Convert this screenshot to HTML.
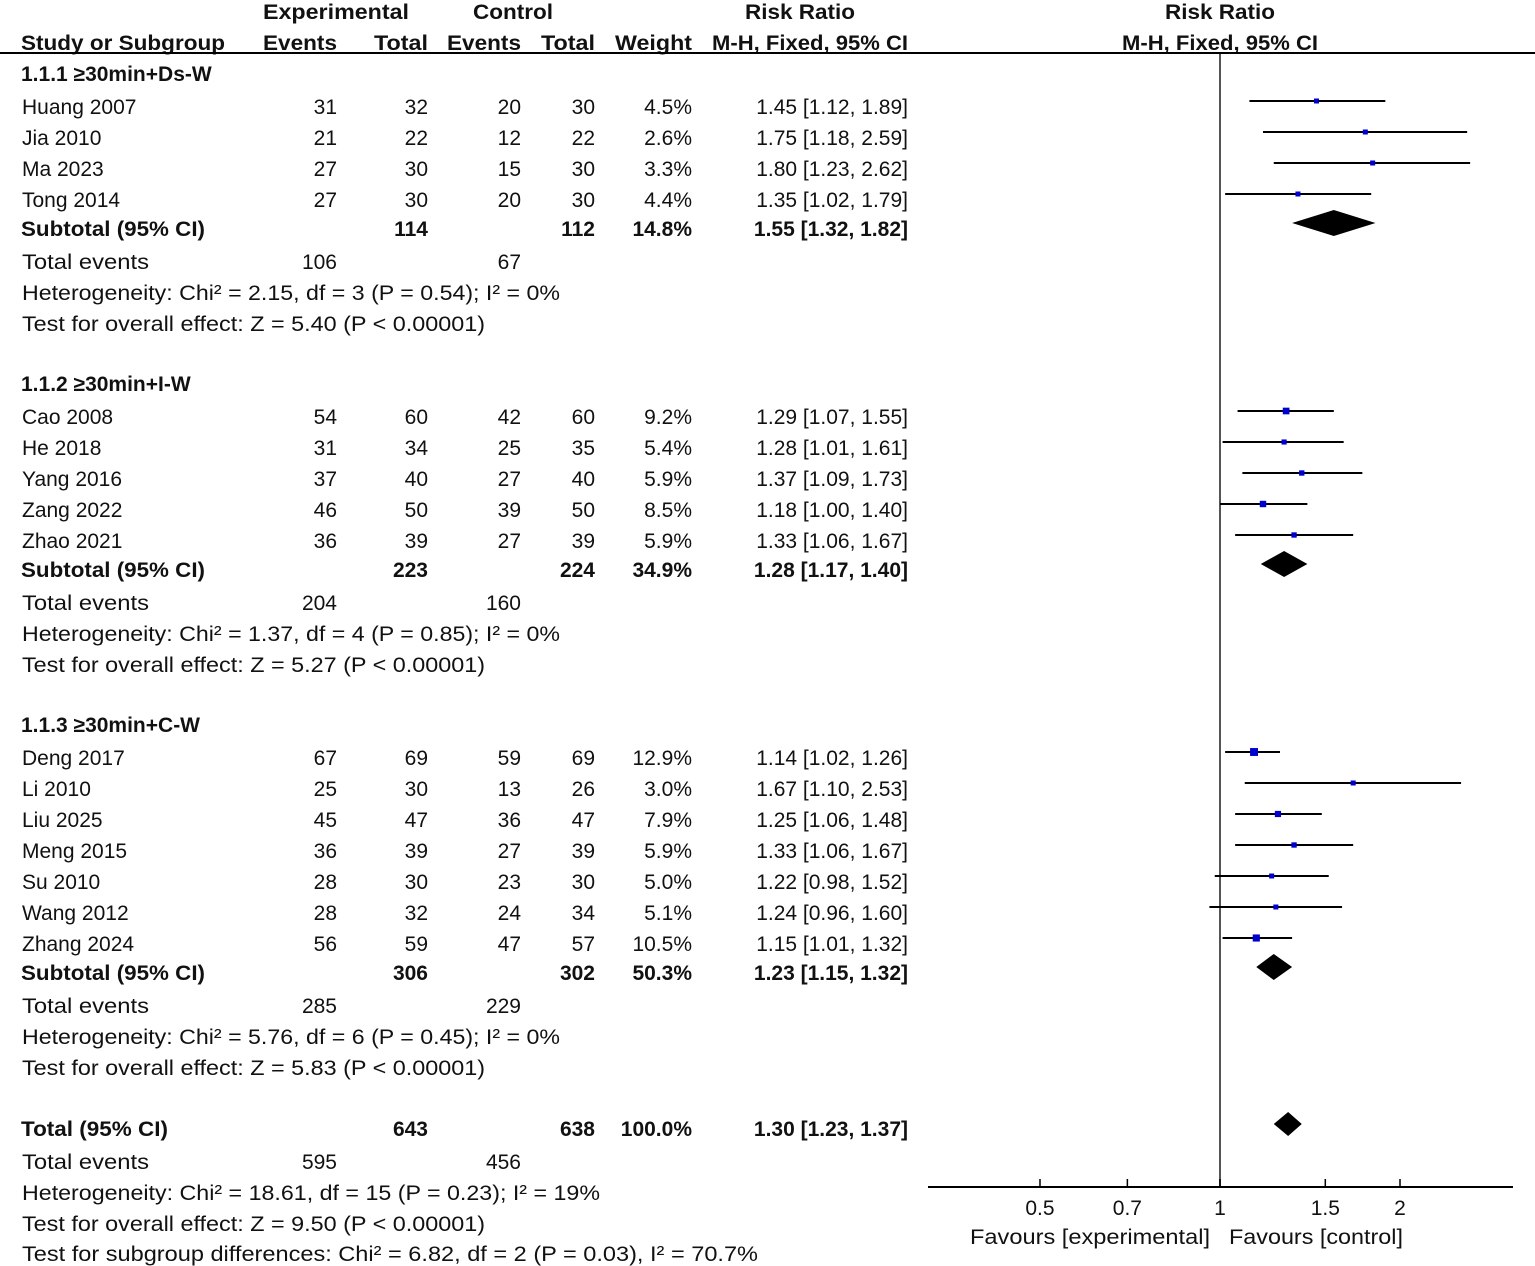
<!DOCTYPE html>
<html><head><meta charset="utf-8"><style>
html,body{margin:0;padding:0;background:#fff;}
svg{display:block;}
text{font-family:"Liberation Sans",Arial,sans-serif;font-size:21px;fill:#111;}
.b{font-weight:bold;}
</style></head><body>
<svg id="plot" width="1535" height="1266" viewBox="0 0 1535 1266"></svg>
<script>
const studyNames=["Huang 2007","Jia 2010","Ma 2023","Tong 2014","Cao 2008","He 2018","Yang 2016","Zang 2022","Zhao 2021","Deng 2017","Li 2010","Liu 2025","Meng 2015","Su 2010","Wang 2012","Zhang 2024"];
const studyGroup=[0,0,0,0,1,1,1,1,1,2,2,2,2,2,2,2];
const expEvents=[31,21,27,27,54,31,37,46,36,67,25,45,36,28,28,56];
const expTotal=[32,22,30,30,60,34,40,50,39,69,30,47,39,30,32,59];
const ctrlEvents=[20,12,15,20,42,25,27,39,27,59,13,36,27,23,24,47];
const ctrlTotal=[30,22,30,30,60,35,40,50,39,69,26,47,39,30,34,57];
const weights=[4.5,2.6,3.3,4.4,9.2,5.4,5.9,8.5,5.9,12.9,3.0,7.9,5.9,5.0,5.1,10.5];
const rr=[1.45,1.75,1.80,1.35,1.29,1.28,1.37,1.18,1.33,1.14,1.67,1.25,1.33,1.22,1.24,1.15];
const ciLo=[1.12,1.18,1.23,1.02,1.07,1.01,1.09,1.00,1.06,1.02,1.10,1.06,1.06,0.98,0.96,1.01];
const ciHi=[1.89,2.59,2.62,1.79,1.55,1.61,1.73,1.40,1.67,1.26,2.53,1.48,1.67,1.52,1.60,1.32];
const groupTitles=["1.1.1 ≥30min+Ds-W","1.1.2 ≥30min+I-W","1.1.3 ≥30min+C-W"];
const subExpTotal=[114,223,306];
const subCtrlTotal=[112,224,302];
const subWeight=["14.8%","34.9%","50.3%"];
const subRR=[1.55,1.28,1.23];
const subLo=[1.32,1.17,1.15];
const subHi=[1.82,1.40,1.32];
const subExpEvents=[106,204,285];
const subCtrlEvents=[67,160,229];
const subHet=["Heterogeneity: Chi² = 2.15, df = 3 (P = 0.54); I² = 0%","Heterogeneity: Chi² = 1.37, df = 4 (P = 0.85); I² = 0%","Heterogeneity: Chi² = 5.76, df = 6 (P = 0.45); I² = 0%"];
const subTest=["Test for overall effect: Z = 5.40 (P < 0.00001)","Test for overall effect: Z = 5.27 (P < 0.00001)","Test for overall effect: Z = 5.83 (P < 0.00001)"];
const totalRR=1.30, totalLo=1.23, totalHi=1.37;
const tickValues=[0.5,0.7,1,1.5,2];
const tickLabels=["0.5","0.7","1","1.5","2"];

const NS="http://www.w3.org/2000/svg";
const svg=document.getElementById('plot');
function xs(v){return 1220+259.7*Math.log(v);}
function el(tag,attrs,parent){const e=document.createElementNS(NS,tag);for(const k in attrs)e.setAttribute(k,attrs[k]);(parent||svg).appendChild(e);return e;}
function txt(s,x,y,anchor,cls,len,name){
  const t=el('text',{x:x,y:y+7,'text-anchor':anchor||'start'});
  if(cls)t.setAttribute('class',cls);
  if(len){t.setAttribute('textLength',len);t.setAttribute('lengthAdjust','spacingAndGlyphs');}
  t.textContent=s;
  
  
  return t;
}
const f2=v=>v.toFixed(2);
txt("Experimental",336,12,'middle','b',146,'header-experimental');
txt("Control",513,12,'middle','b',80,'header-control');
txt("Risk Ratio",800,12,'middle','b',110,'header-risk-ratio');
txt("Risk Ratio",1220,12,'middle','b',110,'header-risk-ratio-plot');
txt("Study or Subgroup",21,43,'start','b',204,'header-study');
txt("Events",337,43,'end','b',74,'header-exp-events');
txt("Total",428,43,'end','b',54,'header-exp-total');
txt("Events",521,43,'end','b',74,'header-ctrl-events');
txt("Total",595,43,'end','b',54,'header-ctrl-total');
txt("Weight",692,43,'end','b',77,'header-weight');
txt("M-H, Fixed, 95% CI",810,43,'middle','b',196,'header-mh');
txt("M-H, Fixed, 95% CI",1220,43,'middle','b',196,'header-mh-plot');
let l=el('line',{x1:0,y1:53,x2:1535,y2:53,stroke:'#000','stroke-width':2});

l=el('line',{x1:1220,y1:54,x2:1220,y2:1187,stroke:'#555','stroke-width':2});


function diamond(c,lo,hi,y,h,name){
  const p=el('polygon',{points:`${xs(lo)},${y} ${xs(c)},${y-h} ${xs(hi)},${y} ${xs(c)},${y+h}`,fill:'#000'});
  
  
}
const groupStart=[74,384,725];
for(let g=0;g<3;g++){
  let y=groupStart[g];
  txt(groupTitles[g],21,y,'start','b',null,'subgroup-title');
  y+=33;
  for(let i=0;i<studyNames.length;i++){ if(studyGroup[i]!==g)continue;
    txt(studyNames[i],22,y,'start',null,null,'study-name');
    txt(String(expEvents[i]),337,y,'end',null,null,'exp-events');
    txt(String(expTotal[i]),428,y,'end',null,null,'exp-total');
    txt(String(ctrlEvents[i]),521,y,'end',null,null,'ctrl-events');
    txt(String(ctrlTotal[i]),595,y,'end',null,null,'ctrl-total');
    txt(weights[i].toFixed(1)+"%",692,y,'end',null,null,'weight');
    txt(`${f2(rr[i])} [${f2(ciLo[i])}, ${f2(ciHi[i])}]`,908,y,'end',null,null,'risk-ratio-ci');
    const my=y-6;
    const ci=el('line',{x1:xs(ciLo[i]),y1:my,x2:xs(ciHi[i]),y2:my,stroke:'#000','stroke-width':2});
    
    
    const s=Math.max(5,2.2*Math.sqrt(weights[i]));
    const sq=el('rect',{x:xs(rr[i])-s/2,y:my-s/2,width:s,height:s,fill:'#0000cc'});
    
    
    y+=31;
  }
  y-=2;
  txt("Subtotal (95% CI)",21,y,'start','b',184,'subtotal-label');
  txt(String(subExpTotal[g]),428,y,'end','b',null,'subtotal-exp-total');
  txt(String(subCtrlTotal[g]),595,y,'end','b',null,'subtotal-ctrl-total');
  txt(subWeight[g],692,y,'end','b',null,'subtotal-weight');
  txt(`${f2(subRR[g])} [${f2(subLo[g])}, ${f2(subHi[g])}]`,908,y,'end','b',null,'subtotal-rr');
  diamond(subRR[g],subLo[g],subHi[g],y-6,13,'subtotal-diamond');
  y+=33;
  txt("Total events",22,y,'start',null,127,'total-events-label');
  txt(String(subExpEvents[g]),337,y,'end',null,null,'exp-total-events');
  txt(String(subCtrlEvents[g]),521,y,'end',null,null,'ctrl-total-events');
  y+=31; txt(subHet[g],22,y,'start',null,538,'heterogeneity');
  y+=31; txt(subTest[g],22,y,'start',null,463,'overall-effect');
}
let y=1129;
txt("Total (95% CI)",21,y,'start','b',147,'total-label');
txt("643",428,y,'end','b',null,'total-exp');
txt("638",595,y,'end','b',null,'total-ctrl');
txt("100.0%",692,y,'end','b',null,'total-weight');
txt(`${f2(totalRR)} [${f2(totalLo)}, ${f2(totalHi)}]`,908,y,'end','b',null,'total-rr');
diamond(totalRR,totalLo,totalHi,y-5,12,'total-diamond');
txt("Total events",22,1162,'start',null,127,'total-events-label');
txt("595",337,1162,'end',null,null,'exp-total-events');
txt("456",521,1162,'end',null,null,'ctrl-total-events');
txt("Heterogeneity: Chi² = 18.61, df = 15 (P = 0.23); I² = 19%",22,1193,'start',null,578,'heterogeneity-total');
txt("Test for overall effect: Z = 9.50 (P < 0.00001)",22,1224,'start',null,463,'overall-effect-total');
txt("Test for subgroup differences: Chi² = 6.82, df = 2 (P = 0.03), I² = 70.7%",22,1254,'start',null,736,'subgroup-differences');
l=el('line',{x1:928,y1:1187,x2:1513,y2:1187,stroke:'#000','stroke-width':2});

for(let i=0;i<tickValues.length;i++){
  const x=xs(tickValues[i]);
  const tk=el('line',{x1:x,y1:1179,x2:x,y2:1187,stroke:'#000','stroke-width':1.5});
  
  
  txt(tickLabels[i],x,1208,'middle',null,null,'x-tick-label');
}
txt("Favours [experimental]",1090,1237,'middle',null,240,'favours-experimental');
txt("Favours [control]",1316,1237,'middle',null,174,'favours-control');
</script>
</body></html>
